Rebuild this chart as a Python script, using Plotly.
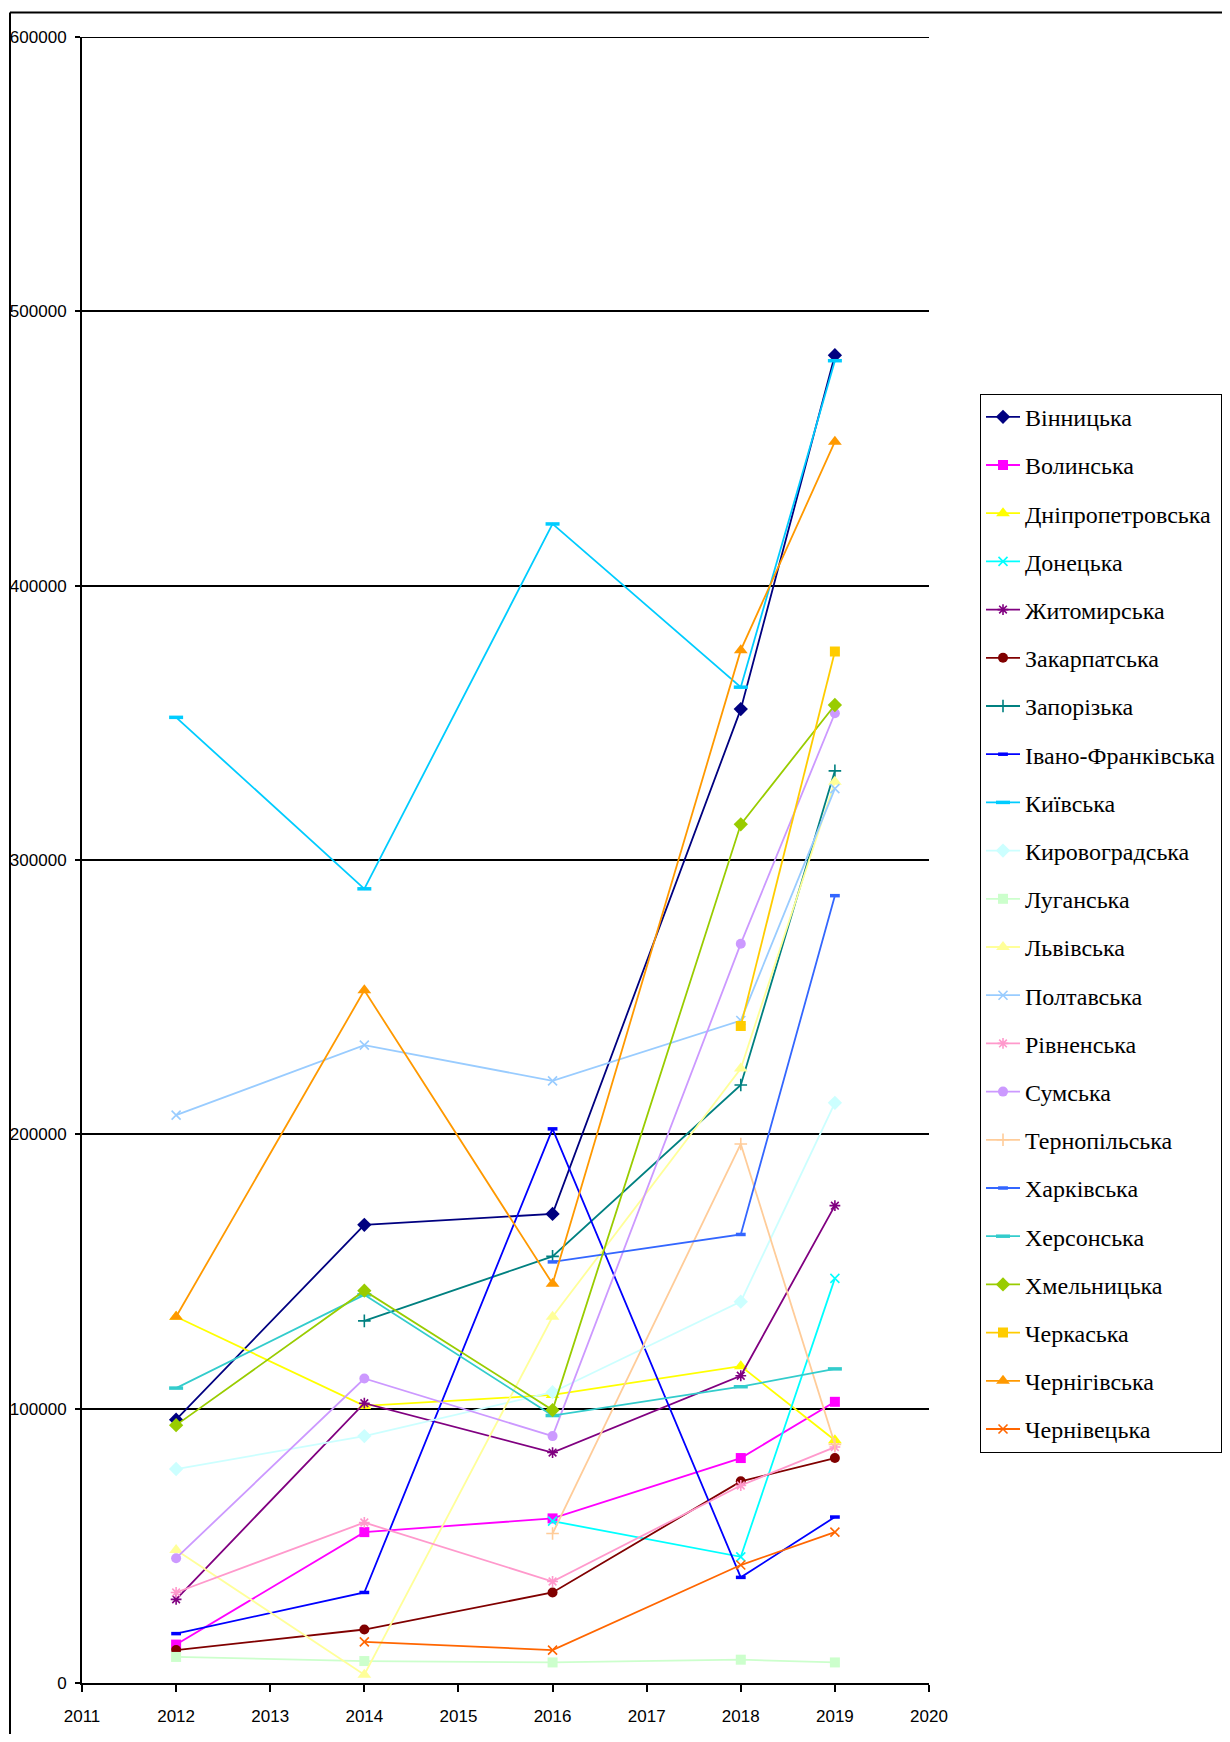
import plotly.graph_objects as go

years = [2012, 2014, 2016, 2018, 2019]

names = ["Вінницька", "Волинська", "Дніпропетровська", "Донецька", "Житомирська",
         "Закарпатська", "Запорізька", "Івано-Франківська", "Київська", "Кировоградська",
         "Луганська", "Львівська", "Полтавська", "Рівненська", "Сумська", "Тернопільська",
         "Харківська", "Херсонська", "Хмельницька", "Черкаська", "Чернігівська", "Чернівецька"]

vinnytska = [96000, 167000, 171000, 355000, 484000]
volynska = [14000, 55000, 60000, 82000, 102500]
dnipropetrovska = [133500, 101000, 105000, 115500, 88500]
donetska = [None, None, 59000, 46000, 147500]
zhytomyrska = [30500, 102000, 84000, 112000, 174000]
zakarpatska = [12000, 19500, 33000, 73500, 82000]
zaporizka = [None, 132000, 155500, 218000, 332500]
ivano_frankivska = [18000, 33000, 202000, 38500, 60500]
kyivska = [352000, 289500, 422500, 363000, 482000]
kirovohradska = [78000, 90000, 106000, 139000, 211500]
luhanska = [9500, 8000, 7500, 8500, 7500]
lvivska = [48500, 3000, 133500, 224000, 328500]
poltavska = [207000, 232500, 219500, 241500, 326000]
rivnenska = [33000, 58500, 37000, 72000, 86000]
sumska = [45500, 111000, 90000, 269500, 353500]
ternopilska = [None, None, 54500, 196500, 87000]
kharkivska = [None, None, 153500, 163500, 287000]
khersonska = [107500, 141500, 97500, 108000, 114500]
khmelnytska = [94000, 143000, 99500, 313000, 356500]
cherkaska = [None, None, None, 239500, 376000]
chernihivska = [133500, 252500, 145500, 376500, 452500]
chernivetska = [None, 15000, 12000, 43000, 55000]

series = [vinnytska, volynska, dnipropetrovska, donetska, zhytomyrska, zakarpatska,
          zaporizka, ivano_frankivska, kyivska, kirovohradska, luhanska, lvivska,
          poltavska, rivnenska, sumska, ternopilska, kharkivska, khersonska,
          khmelnytska, cherkaska, chernihivska, chernivetska]

colors = ["#000080", "#FF00FF", "#FFFF00", "#00FFFF", "#800080", "#800000",
          "#008080", "#0000FF", "#00CCFF", "#CCFFFF", "#CCFFCC", "#FFFF99",
          "#99CCFF", "#FF99CC", "#CC99FF", "#FFCC99", "#3366FF", "#33CCCC",
          "#99CC00", "#FFCC00", "#FF9900", "#FF6600"]

symbols = ["diamond", "square", "triangle-up", "x-thin-open", "asterisk-open", "circle",
           "cross-thin-open", "line-ew-open", "line-ew-open", "diamond", "square", "triangle-up",
           "x-thin-open", "asterisk-open", "circle", "cross-thin-open", "line-ew-open", "line-ew-open",
           "diamond", "square", "triangle-up", "x-thin-open"]

sizes = [11, 10, 12, 9, 9, 10, 9, 7, 10, 11, 10, 12, 9, 9, 10, 9, 7, 10, 11, 10, 12, 9]

fig = go.Figure()
for i, (nm, vals, col, sym, sz) in enumerate(zip(names, series, colors, symbols, sizes)):
    openm = sym.endswith("open")
    lw = 3.5 if sym.startswith("line") else (1.6 if openm else 0)
    fig.add_trace(go.Scatter(
        x=years, y=vals, name=nm, mode="lines+markers",
        legendgroup="g%d" % i,
        line=dict(color=col, width=1.8),
        marker=dict(symbol=sym, size=sz, color=col,
                    line=dict(color=col, width=lw)),
        connectgaps=False,
    ))

tickfont = dict(family="Liberation Sans, Arial", size=17, color="black")

# page body has an 8px margin; figure sized to fit inside the window
W, H = 1214, 1726
L, T, PW, PH = 74, 29.3, 847, 1646
R = W - L - PW
B = H - T - PH

fig.update_layout(
    width=W, height=H,
    margin=dict(l=L, r=R, t=T, b=B, autoexpand=False),
    paper_bgcolor="white", plot_bgcolor="white",
    showlegend=True,
    legend=dict(
        x=(972 - L) / PW, xanchor="left",
        y=(T + PH - 386) / PH, yanchor="top",
        bgcolor="white", bordercolor="black", borderwidth=1,
        font=dict(family="Liberation Serif, Times New Roman, serif", size=24, color="black"),
        tracegroupgap=14, itemwidth=34,
    ),
    xaxis=dict(
        range=[2011, 2020], dtick=1, tick0=2011, showgrid=False, zeroline=False,
        showline=True, linecolor="black", linewidth=2, automargin=False,
        ticks="outside", ticklen=7, tickwidth=2, tickcolor="black",
        tickfont=tickfont, ticklabelstandoff=10,
    ),
    yaxis=dict(
        range=[0, 600000], dtick=100000, tick0=0, showgrid=True, gridcolor="black", gridwidth=2,
        zeroline=False, showline=True, linecolor="black", linewidth=2, automargin=False,
        ticks="outside", ticklen=5, tickwidth=1.5, tickcolor="black",
        tickfont=tickfont, tickformat="d", ticklabelstandoff=5,
    ),
    shapes=[
        dict(type="line", xref="paper", yref="paper", x0=(2 - L) / PW, x1=1.6,
             y0=(T + PH - 4.7) / PH, y1=(T + PH - 4.7) / PH, line=dict(color="black", width=2)),
        dict(type="line", xref="paper", yref="paper", x0=(2 - L) / PW, x1=(2 - L) / PW,
             y0=(T + PH - 4.7) / PH, y1=-0.05, line=dict(color="black", width=2)),
        dict(type="line", xref="x", yref="y", x0=2011, x1=2020,
             y0=600000, y1=600000, line=dict(color="black", width=2)),
    ],
)

fig.write_html("out.html")
